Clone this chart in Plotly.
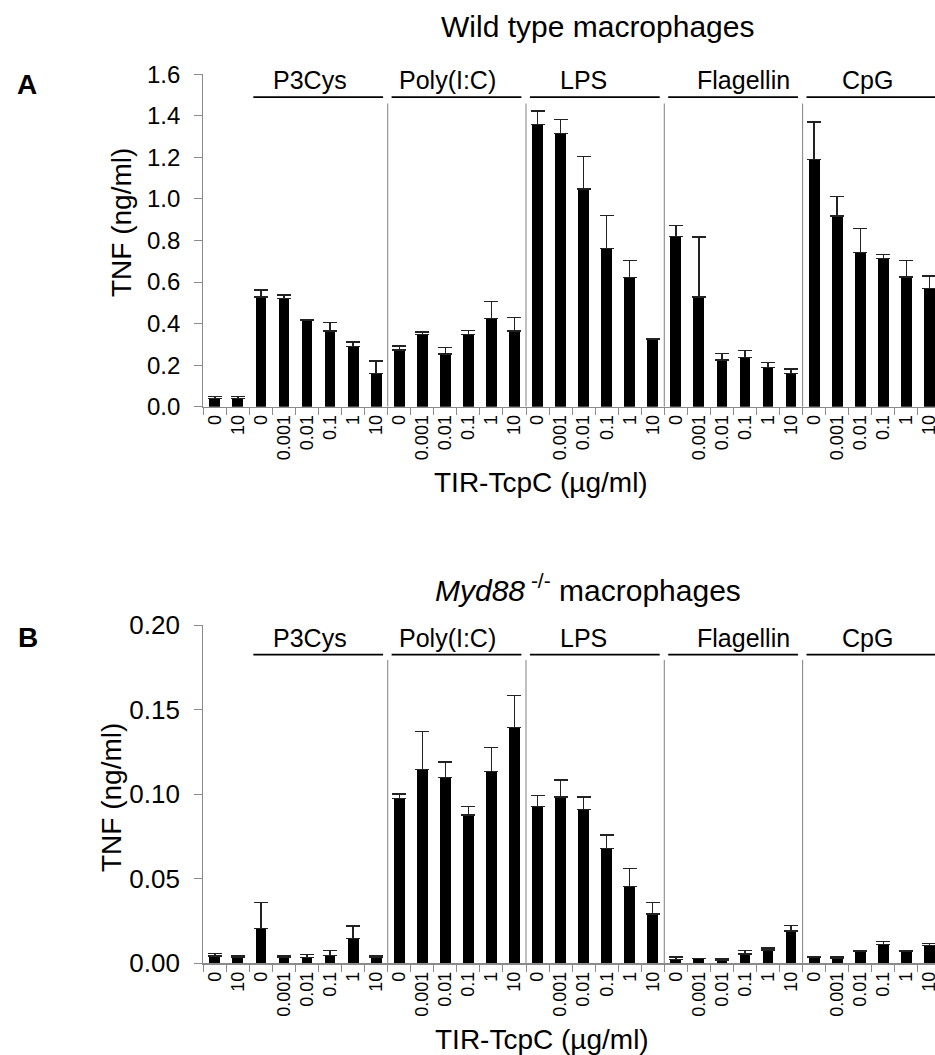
import plotly.graph_objects as go

# ---------------- data ----------------
ctrl_conc = ["0", "10"]
conc = ["0", "0.001", "0.01", "0.1", "1", "10"]
groups = ["P3Cys", "Poly(I:C)", "LPS", "Flagellin", "CpG"]

# Wild type macrophages (TNF ng/ml), mean and upper error
wt_ctrl = [0.040, 0.040]
wt_ctrl_err = [0.008, 0.008]
wt_p3cys = [0.529, 0.522, 0.414, 0.364, 0.289, 0.161]
wt_p3cys_err = [0.032, 0.016, 0.004, 0.042, 0.022, 0.059]
wt_poly = [0.273, 0.348, 0.254, 0.348, 0.425, 0.364]
wt_poly_err = [0.019, 0.011, 0.030, 0.020, 0.080, 0.066]
wt_lps = [1.357, 1.316, 1.048, 0.762, 0.623, 0.324]
wt_lps_err = [0.066, 0.067, 0.155, 0.157, 0.081, 0.004]
wt_flag = [0.818, 0.529, 0.225, 0.236, 0.190, 0.161]
wt_flag_err = [0.055, 0.288, 0.032, 0.034, 0.024, 0.020]
wt_cpg = [1.191, 0.918, 0.743, 0.714, 0.624, 0.568]
wt_cpg_err = [0.179, 0.093, 0.114, 0.019, 0.080, 0.061]

# Myd88-/- macrophages
ko_ctrl = [0.0043, 0.0033]
ko_ctrl_err = [0.0016, 0.0010]
ko_p3cys = [0.0207, 0.0033, 0.0033, 0.0045, 0.0146, 0.0037]
ko_p3cys_err = [0.0154, 0.0010, 0.0020, 0.0030, 0.0075, 0.0005]
ko_poly = [0.0976, 0.1148, 0.1098, 0.0877, 0.1134, 0.1396]
ko_poly_err = [0.0026, 0.0222, 0.0093, 0.0050, 0.0142, 0.0188]
ko_lps = [0.0929, 0.0984, 0.0909, 0.0680, 0.0453, 0.0292]
ko_lps_err = [0.0065, 0.0101, 0.0075, 0.0079, 0.0109, 0.0067]
ko_flag = [0.0024, 0.0027, 0.0020, 0.0055, 0.0079, 0.0191]
ko_flag_err = [0.0013, 0.0003, 0.0008, 0.0020, 0.0012, 0.0034]
ko_cpg = [0.0033, 0.0031, 0.0073, 0.0112, 0.0073, 0.0104]
ko_cpg_err = [0.0004, 0.0010, 0.0002, 0.0018, 0.0002, 0.0014]

# ---------------- build categories ----------------
keys = ["Ctrl|" + c for c in ctrl_conc]
labels = list(ctrl_conc)
for g in groups:
    keys += [g + "|" + c for c in conc]
    labels += conc

wt_vals = wt_ctrl + wt_p3cys + wt_poly + wt_lps + wt_flag + wt_cpg
wt_errs = wt_ctrl_err + wt_p3cys_err + wt_poly_err + wt_lps_err + wt_flag_err + wt_cpg_err
ko_vals = ko_ctrl + ko_p3cys + ko_poly + ko_lps + ko_flag + ko_cpg
ko_errs = ko_ctrl_err + ko_p3cys_err + ko_poly_err + ko_lps_err + ko_flag_err + ko_cpg_err

W, H = 935, 1055
FONT = "Liberation Sans, Arial, sans-serif"
AXC = "#8a8a8a"


def py(px):
    return 1 - px / H


def px_(x):
    return x / W


fig = go.Figure()
err_style = dict(type="data", symmetric=False, color="#222222", thickness=1.4, width=7)
fig.add_trace(go.Bar(x=keys, y=wt_vals, width=0.47, marker=dict(color="black", line=dict(width=0)),
                     error_y=dict(array=wt_errs, arrayminus=[0] * len(wt_errs), **err_style),
                     xaxis="x", yaxis="y", showlegend=False, hoverinfo="skip"))
fig.add_trace(go.Bar(x=keys, y=ko_vals, width=0.47, marker=dict(color="black", line=dict(width=0)),
                     error_y=dict(array=ko_errs, arrayminus=[0] * len(ko_errs), **err_style),
                     xaxis="x2", yaxis="y2", showlegend=False, hoverinfo="skip"))

x_left = 203.3
slot = 23.05
x_end = -0.5 + (W - x_left) / slot

xcommon = dict(type="category", categoryorder="array", categoryarray=keys,
               tickmode="array", tickvals=keys, ticktext=labels,
               tickson="boundaries", ticks="outside", ticklen=7, tickcolor=AXC, tickwidth=1,
               showline=True, linecolor=AXC, linewidth=1.2, showgrid=False, zeroline=False,
               tickangle=-90, range=[-0.5, x_end], domain=[px_(x_left), 1.0],
               automargin=False)
ycommon = dict(showline=True, linecolor=AXC, linewidth=1.2, ticks="outside", ticklen=8,
               tickcolor=AXC, tickwidth=1, showgrid=False, zeroline=False,
               ticklabelstandoff=9, automargin=False)

fig.update_layout(
    template="none",
    width=W, height=H, autosize=False,
    margin=dict(l=0, r=0, t=0, b=0, pad=0, autoexpand=False),
    paper_bgcolor="white", plot_bgcolor="white",
    font=dict(family=FONT, color="black"),
    bargap=0,
    xaxis=dict(**xcommon, anchor="y", tickfont=dict(size=18, family=FONT, color="black")),
    yaxis=dict(**ycommon, range=[0, 1.6], dtick=0.2, tick0=0, tickformat=".1f",
               domain=[py(406.7), py(74.3)], anchor="x",
               tickfont=dict(size=24, family=FONT, color="black")),
    xaxis2=dict(**xcommon, anchor="y2", tickfont=dict(size=18, family=FONT, color="black")),
    yaxis2=dict(**ycommon, range=[0, 0.2], dtick=0.05, tick0=0, tickformat=".2f",
                domain=[py(963.3), py(625.3)], anchor="x2",
                tickfont=dict(size=26, family=FONT, color="black")),
)

# group separators and group bars/labels
group_start = [2 + 6 * i for i in range(len(groups))]
label_pos = [4.15, 10.1, 16.0, 22.95, 28.3]
panels = [("x", "y", 1.46, 1.49, 25), ("x2", "y2", 0.1795, 0.1826, 25)]
shapes = []
annotations = []
for xr, yr, sep_top, line_y, gfs in panels:
    for i, s in enumerate(group_start):
        if i > 0:
            shapes.append(dict(type="line", xref=xr, yref=yr, x0=s - 0.5, x1=s - 0.5,
                               y0=0, y1=sep_top, line=dict(color=AXC, width=1.1)))
        x0 = s - 0.5 + 0.17
        x1 = s + 5.5 - 0.2 if i < len(groups) - 1 else s + 5.5
        shapes.append(dict(type="line", xref=xr, yref=yr, x0=x0, x1=x1, y0=line_y, y1=line_y,
                           line=dict(color="black", width=1.8)))
        annotations.append(dict(text=groups[i], xref=xr, yref=yr, x=label_pos[i], y=line_y,
                                xanchor="center", yanchor="bottom", yshift=1, showarrow=False,
                                font=dict(size=gfs, family=FONT, color="black")))

# titles, panel letters, axis titles
annotations += [
    dict(text="Wild type macrophages", xref="paper", yref="paper", x=px_(597), y=py(26),
         xanchor="center", yanchor="middle", showarrow=False, font=dict(size=30, family=FONT)),
    dict(text="<i>Myd88</i><sup> -/-</sup> macrophages", xref="paper", yref="paper",
         x=px_(588), y=py(588), xanchor="center", yanchor="middle", showarrow=False,
         font=dict(size=30, family=FONT)),
    dict(text="<b>A</b>", xref="paper", yref="paper", x=px_(27), y=py(84),
         xanchor="center", yanchor="middle", showarrow=False, font=dict(size=28, family=FONT)),
    dict(text="<b>B</b>", xref="paper", yref="paper", x=px_(28), y=py(637),
         xanchor="center", yanchor="middle", showarrow=False, font=dict(size=28, family=FONT)),
    dict(text="TNF (ng/ml)", xref="paper", yref="paper", x=px_(122), y=py(223),
         xanchor="center", yanchor="middle", textangle=-90, showarrow=False,
         font=dict(size=28, family=FONT)),
    dict(text="TNF (ng/ml)", xref="paper", yref="paper", x=px_(111), y=py(798),
         xanchor="center", yanchor="middle", textangle=-90, showarrow=False,
         font=dict(size=28, family=FONT)),
    dict(text="TIR-TcpC (µg/ml)", xref="paper", yref="paper", x=px_(541), y=py(483),
         xanchor="center", yanchor="middle", showarrow=False, font=dict(size=28, family=FONT)),
    dict(text="TIR-TcpC (µg/ml)", xref="paper", yref="paper", x=px_(542), y=py(1039),
         xanchor="center", yanchor="middle", showarrow=False, font=dict(size=28, family=FONT)),
]

fig.update_layout(shapes=shapes, annotations=annotations)
fig.write_html(
    "out.html",
    config={"displayModeBar": False, "staticPlot": True},
    post_script="document.body.style.margin='0';document.body.style.overflow='hidden';"
                "document.documentElement.style.overflow='hidden';",
)
